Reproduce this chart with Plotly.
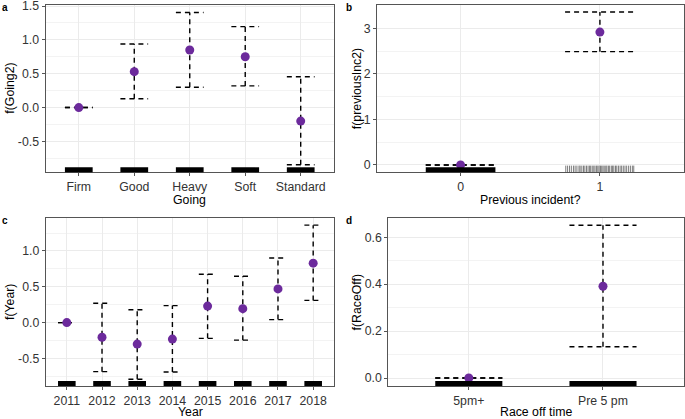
import plotly.graph_objects as go

# ---------------- data ----------------
going_cats = ["Firm", "Good", "Heavy", "Soft", "Standard"]
going_fit = [0.0, 0.53, 0.85, 0.75, -0.20]
going_lo = [0.0, 0.13, 0.30, 0.32, -0.845]
going_hi = [0.0, 0.94, 1.405, 1.195, 0.455]

prev_cats = ["0", "1"]
prev_fit = [0.0, 2.92]
prev_lo = [0.0, 2.49]
prev_hi = [0.0, 3.36]

year_cats = ["2011", "2012", "2013", "2014", "2015", "2016", "2017", "2018"]
year_fit = [0.0, -0.205, -0.30, -0.23, 0.23, 0.195, 0.47, 0.83]
year_lo = [0.0, -0.685, -0.79, -0.69, -0.22, -0.245, 0.042, 0.31]
year_hi = [0.0, 0.27, 0.18, 0.237, 0.675, 0.647, 0.902, 1.36]

race_cats = ["5pm+", "Pre 5 pm"]
race_fit = [0.0, 0.391]
race_lo = [0.0, 0.133]
race_hi = [0.0, 0.651]

# jittered rug offsets for the sparse "previous incident = 1" group
prev1_rug = [-0.245, -0.232, -0.218, -0.205, -0.19, -0.178, -0.165, -0.15, -0.142,
             -0.13, -0.118, -0.108, -0.096, -0.085, -0.074, -0.066, -0.055, -0.044,
             -0.035, -0.024, -0.015, -0.006, 0.004, 0.013, 0.022, 0.031, 0.042, 0.05,
             0.061, 0.07, 0.082, 0.091, 0.1, 0.112, 0.121, 0.133, 0.145, 0.156, 0.168,
             0.18, 0.192, 0.206, 0.219, 0.233, 0.243]

# y tick labels
going_yt = [-0.5, 0.0, 0.5, 1.0, 1.5]
going_ytl = ["-0.5", "0.0", "0.5", "1.0", "1.5"]
prev_yt = [0, 1, 2, 3]
prev_ytl = ["0", "1", "2", "3"]
year_yt = [-0.5, 0.0, 0.5, 1.0]
year_ytl = ["-0.5", "0.0", "0.5", "1.0"]
race_yt = [0.0, 0.2, 0.4, 0.6]
race_ytl = ["0.0", "0.2", "0.4", "0.6"]

# ---------------- styling ----------------
PURPLE = "#6C2A9C"
FONT = "Liberation Sans, Arial, sans-serif"
BORDER = "#555555"
HALF = 0.25

panels = [
    dict(c=going_cats, f=going_fit, lo=going_lo, hi=going_hi, yt=going_yt, ytl=going_ytl,
         minor=[-0.75, -0.25, 0.25, 0.75, 1.25], yr=[-0.956, 1.515],
         xd=[45.5, 334], yd=[5, 172.3], xt="Going", yl="f(Going2)", L="a"),
    dict(c=prev_cats, f=prev_fit, lo=prev_lo, hi=prev_hi, yt=prev_yt, ytl=prev_ytl,
         minor=[0.5, 1.5, 2.5, 3.5], yr=[-0.162, 3.515],
         xd=[377, 683.5], yd=[5, 172.3], xt="Previous incident?", yl="f(previousInc2)", L="b"),
    dict(c=year_cats, f=year_fit, lo=year_lo, hi=year_hi, yt=year_yt, ytl=year_ytl,
         minor=[-0.75, -0.25, 0.25, 0.75, 1.25], yr=[-0.885, 1.46],
         xd=[45.7, 334.3], yd=[218, 386], xt="Year", yl="f(Year)", L="c"),
    dict(c=race_cats, f=race_fit, lo=race_lo, hi=race_hi, yt=race_yt, ytl=race_ytl,
         minor=[0.1, 0.3, 0.5], yr=[-0.034, 0.682],
         xd=[388.3, 683.5], yd=[218, 386], xt="Race off time", yl="f(RaceOff)", L="d"),
]

W, H = 685, 419


def px(v):
    return v / W


def py(v):
    return 1 - v / H


fig = go.Figure()
shapes = []
annotations = []

for i, p in enumerate(panels, start=1):
    xa = "x" if i == 1 else f"x{i}"
    ya = "y" if i == 1 else f"y{i}"
    n = len(p["c"])
    pos = list(range(1, n + 1))

    xs, ys = [], []
    for k in range(n):
        xs += [pos[k], pos[k], None,
               pos[k] - HALF, pos[k] + HALF, None,
               pos[k] - HALF, pos[k] + HALF, None]
        ys += [p["lo"][k], p["hi"][k], None,
               p["hi"][k], p["hi"][k], None,
               p["lo"][k], p["lo"][k], None]
    fig.add_trace(go.Scatter(x=xs, y=ys, mode="lines", xaxis=xa, yaxis=ya,
                             line=dict(color="black", width=1.4, dash="5px,4px"),
                             hoverinfo="skip", showlegend=False))
    fig.add_trace(go.Scatter(x=pos, y=p["f"], mode="markers", xaxis=xa, yaxis=ya,
                             marker=dict(color=PURPLE, size=9), showlegend=False))

    for k in range(n):
        if p["L"] == "b" and k == 1:
            for off in prev1_rug:
                shapes.append(dict(type="line", xref=xa, yref=f"{ya} domain",
                                   x0=pos[k] + off, x1=pos[k] + off, y0=0, y1=0.04,
                                   line=dict(color="#444444", width=0.7)))
        else:
            shapes.append(dict(type="rect", xref=xa, yref=f"{ya} domain",
                               x0=pos[k] - HALF, x1=pos[k] + HALF, y0=0, y1=0.03,
                               fillcolor="black", line=dict(width=0)))

    xdom = [px(p["xd"][0]), min(1.0, px(p["xd"][1]))]
    ydom = [py(p["yd"][1]), min(1.0, py(p["yd"][0]))]
    axis_common = dict(showline=True, mirror=True, linecolor=BORDER, linewidth=1,
                       ticks="outside", ticklen=3, tickcolor=BORDER,
                       tickfont=dict(family=FONT, size=12.3, color="#333333"),
                       showgrid=True, gridcolor="#EBEBEB", gridwidth=1.1,
                       zeroline=False, fixedrange=True, automargin=False,
                       ticklabeloverflow="allow")
    fig.layout[f"xaxis{'' if i == 1 else i}"] = dict(
        axis_common, domain=xdom, anchor=ya, range=[0.4, n + 0.6],
        tickmode="array", tickvals=pos, ticktext=p["c"])
    fig.layout[f"yaxis{'' if i == 1 else i}"] = dict(
        axis_common, domain=ydom, anchor=xa, range=p["yr"],
        tickmode="array", tickvals=p["yt"], ticktext=p["ytl"],
        minor=dict(tickmode="array", tickvals=p["minor"], showgrid=True,
                   gridcolor="#F3F3F3", gridwidth=0.6, ticks=""))

    xc = (p["xd"][0] + p["xd"][1]) / 2
    top_row = p["yd"][0] < 100
    annotations.append(dict(text=p["xt"], xref="paper", yref="paper",
                            x=px(xc), y=py(p["yd"][1] + (27.5 if top_row else 25.5)),
                            xanchor="center", yanchor="middle", showarrow=False,
                            font=dict(family=FONT, size=12.3, color="black")))
    ylx = 10 if p["xd"][0] < 100 else 356.5
    annotations.append(dict(text=p["yl"], xref="paper", yref="paper",
                            x=px(ylx), y=py((p["yd"][0] + p["yd"][1]) / 2),
                            xanchor="center", yanchor="middle", textangle=-90,
                            showarrow=False,
                            font=dict(family=FONT, size=12.3, color="black")))
    lx = 5 if p["xd"][0] < 100 else 349
    ly = 8 if top_row else 220
    annotations.append(dict(text=f"<b>{p['L']}</b>", xref="paper", yref="paper",
                            x=px(lx), y=py(ly), xanchor="center", yanchor="middle",
                            showarrow=False,
                            font=dict(family=FONT, size=10, color="black")))

fig.update_layout(width=W, height=H, margin=dict(l=0, r=0, t=0, b=0),
                  paper_bgcolor="white", plot_bgcolor="white",
                  shapes=shapes, annotations=annotations, showlegend=False)

fig.write_html("out.html", config={"displayModeBar": False},
               post_script="document.body.style.margin='0';document.body.style.overflow='hidden';")
